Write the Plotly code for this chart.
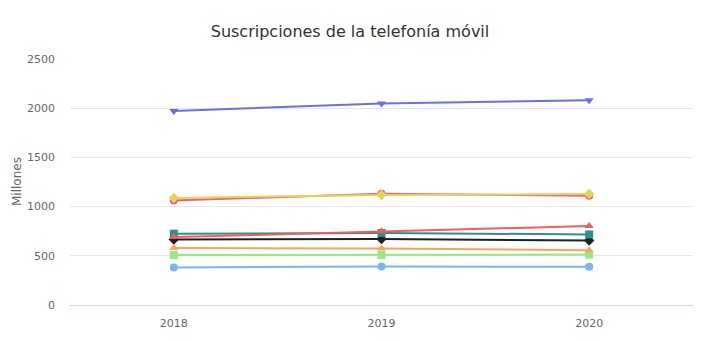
import plotly.graph_objects as go

years = ["2018", "2019", "2020"]

# Suscripciones (millones) por serie
serie_morada = [1972, 2047, 2080]
serie_rosa = [1062, 1130, 1110]
serie_amarilla = [1088, 1118, 1128]
serie_roja = [690, 750, 803]
serie_verde_azulada = [725, 732, 717]
serie_negra = [665, 670, 655]
serie_naranja = [580, 574, 556]
serie_verde = [508, 508, 512]
serie_azul = [382, 390, 388]

series = [
    ("Serie 1", serie_azul, "#7cb5ec", "circle"),
    ("Serie 2", serie_negra, "#1f1f24", "diamond"),
    ("Serie 3", serie_verde, "#90ed7d", "square"),
    ("Serie 4", serie_naranja, "#f7a35c", "triangle-up"),
    ("Serie 5", serie_morada, "#6b6fe6", "triangle-down"),
    ("Serie 6", serie_rosa, "#f15c80", "circle"),
    ("Serie 7", serie_amarilla, "#e4d354", "diamond"),
    ("Serie 8", serie_verde_azulada, "#2b908f", "square"),
    ("Serie 9", serie_roja, "#f45b5b", "triangle-up"),
]

font_family = "DejaVu Sans, Lucida Grande, sans-serif"

fig = go.Figure()
for name, vals, color, symbol in series:
    fig.add_trace(go.Scatter(
        x=list(range(len(years))), y=vals, name=name, mode="lines+markers",
        line=dict(color=color, width=2),
        marker=dict(color=color, symbol=symbol, size=8, line=dict(width=0)),
    ))

fig.update_layout(
    width=720, height=340,
    margin=dict(l=70, r=27, t=59, b=35),
    paper_bgcolor="white", plot_bgcolor="white",
    showlegend=False,
    font=dict(family=font_family, color="#666666", size=11),
    title=dict(text="Suscripciones de la telefonía móvil",
               x=350 / 720, xanchor="center", y=1 - 31 / 340, yanchor="middle",
               font=dict(size=16, color="#333333", family=font_family)),
    xaxis=dict(
        tickmode="array", tickvals=list(range(len(years))), ticktext=years,
        range=[-0.5, 2.5], showgrid=False, zeroline=False, automargin=False,
        showline=True, linecolor="#ccd6eb", linewidth=1,
        ticks="", ticklabelstandoff=8, tickfont=dict(size=11, color="#666666"),
    ),
    yaxis=dict(
        range=[0, 2500], tickvals=[0, 500, 1000, 1500, 2000, 2500],
        showgrid=True, gridcolor="#e6e6e6", gridwidth=1, zeroline=False,
        showline=False, ticks="", ticklabelstandoff=14, automargin=False,
        tickfont=dict(size=11, color="#666666"),
    ),
    annotations=[dict(
        text="Millones", textangle=-90, showarrow=False,
        xref="paper", yref="paper", x=-(70 - 17) / 623, y=0.5,
        xanchor="center", yanchor="middle",
        font=dict(size=12, color="#666666", family=font_family),
    )],
)

fig.write_html("out.html")
